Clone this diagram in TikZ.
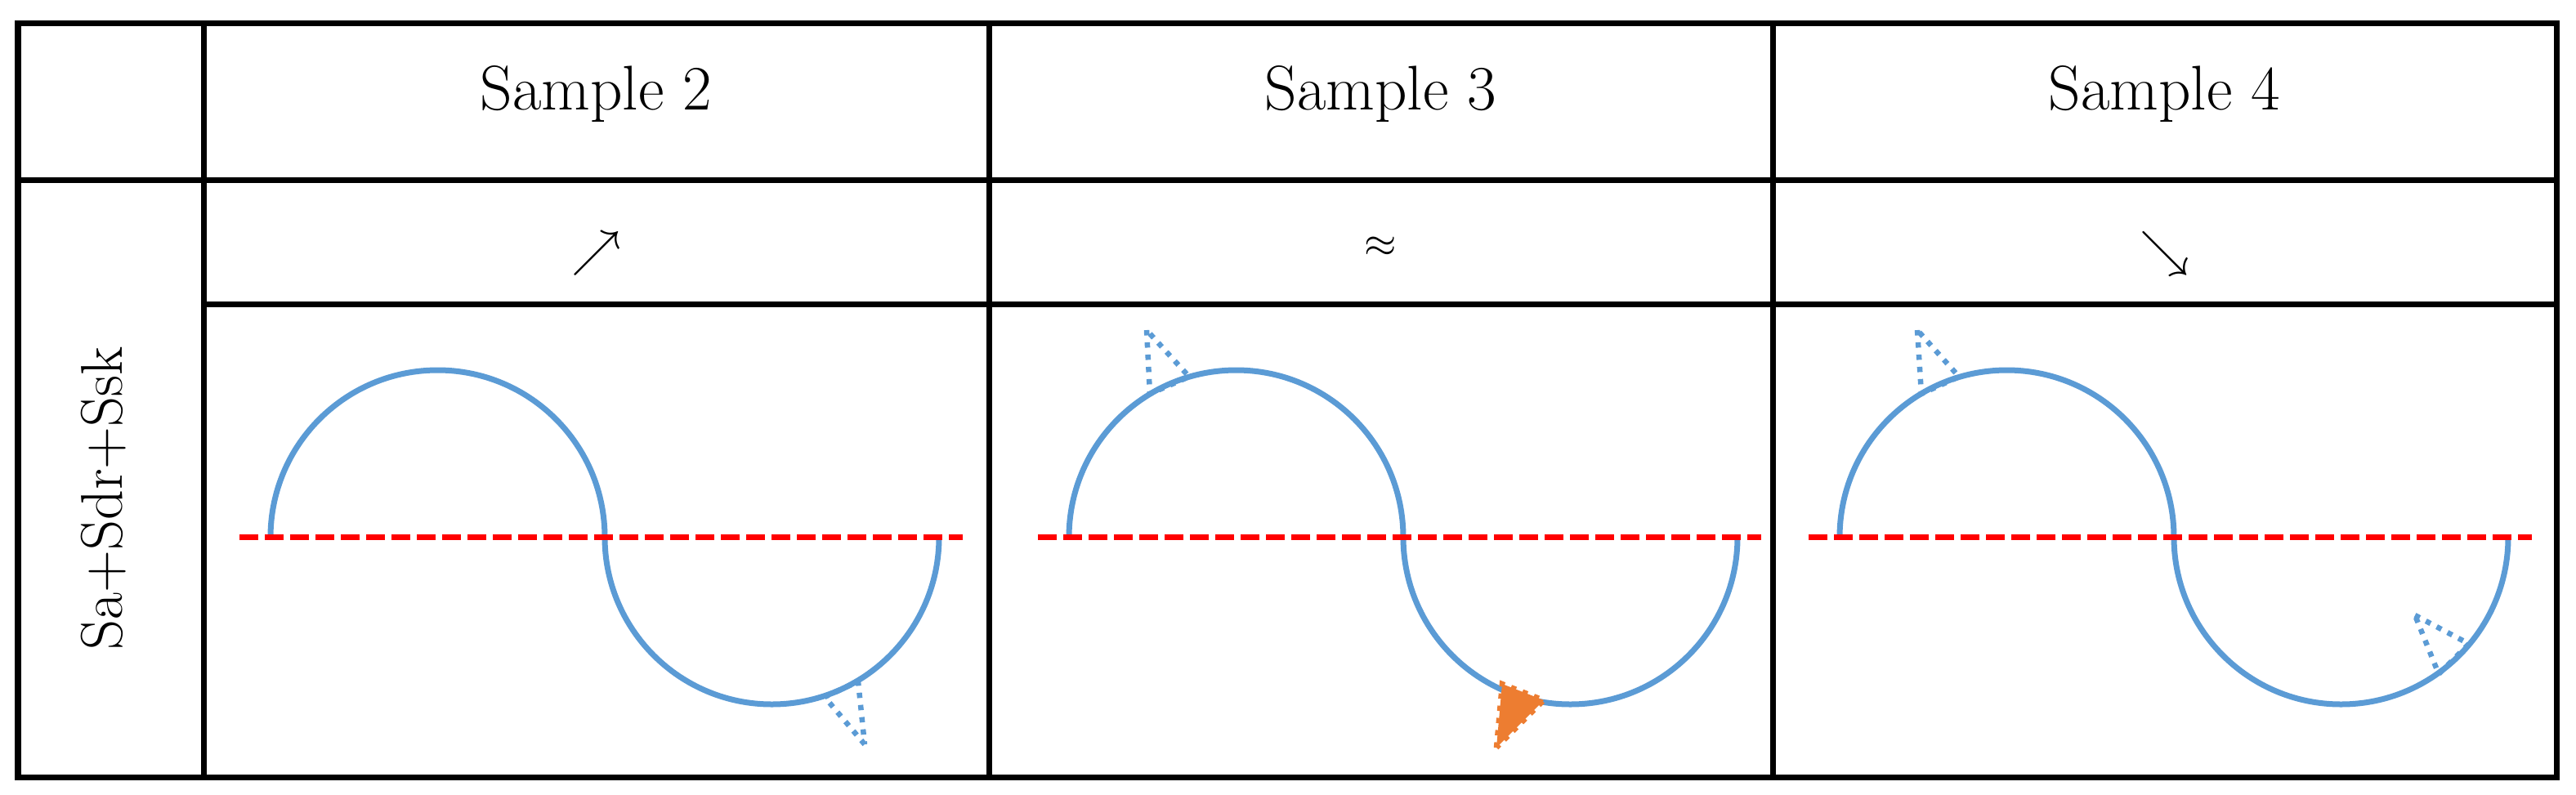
\documentclass[tikz,border=0pt]{standalone}
\definecolor{curveblue}{RGB}{91,155,213}
\definecolor{markorange}{RGB}{237,125,49}
\tikzset{
	tableline/.style={black,line width=0.07cm},
	zeroline/.style={red,line width=0.07cm,dash pattern=on 0.23cm off 0.08cm},
	wavecurve/.style={curveblue,line width=0.07cm},
	trimark/.style={curveblue,line width=0.065cm,dash pattern=on 0.065cm off 0.085cm,miter limit=25},
	headtext/.style={font=\fontsize{22}{26}\selectfont},
	sidetext/.style={font=\fontsize{20.5}{24}\selectfont,rotate=90},
	trendtext/.style={font=\fontsize{16}{19}\selectfont}
}
\begin{document}
\begin{tikzpicture}
\useasboundingbox (0,0) rectangle (31.52,-9.72);
\fill[white] (0,0) rectangle (31.52,-9.72);

\draw[tableline] (0.22,-0.28) rectangle (31.28,-9.51);
\draw[tableline] (0.22,-2.20) -- (31.28,-2.20);
\draw[tableline] (2.49,-3.72) -- (31.28,-3.72);
\foreach \x in {2.49,12.10,21.69} {
	\draw[tableline] (\x,-0.28) -- (\x,-9.51);
}

\foreach \x/\n in {7.295/2,16.895/3,26.485/4} {
	\node[headtext] (sample\n) at (\x,-1.15) {Sample \n};
}
\node[trendtext] (trendup) at (7.295,-3.1) {$\nearrow$};
\node[trendtext,font=\fontsize{14}{17}\selectfont] (trendeq) at (16.895,-3.02) {$\approx$};
\node[trendtext] (trenddown) at (26.485,-3.1) {$\searrow$};

\node[sidetext] (rowlabel) at (1.27,-6.1) {Sa+Sdr+Ssk};

\foreach \x in {3.31,13.08,22.51} {
	\draw[wavecurve] (\x,-6.575) arc[start angle=180,end angle=0,radius=2.045]
		arc[start angle=180,end angle=360,radius=2.045];
	\draw[zeroline] (\x-0.38,-6.575) -- (\x+8.47,-6.575);
}

\draw[trimark] (10.58,-9.11) -- (10.09,-8.53) -- (10.50,-8.34) -- cycle;

\draw[trimark] (14.03,-4.04) -- (14.07,-4.82) -- (14.55,-4.61) -- cycle;
\filldraw[trimark,draw=markorange,fill=markorange] (18.31,-9.15) -- (18.38,-8.37) -- (18.89,-8.57) -- cycle;

\draw[trimark] (23.46,-4.04) -- (23.51,-4.82) -- (23.97,-4.61) -- cycle;
\draw[trimark] (29.55,-7.53) -- (30.21,-7.88) -- (29.84,-8.25) -- cycle;
\end{tikzpicture}
\end{document}
